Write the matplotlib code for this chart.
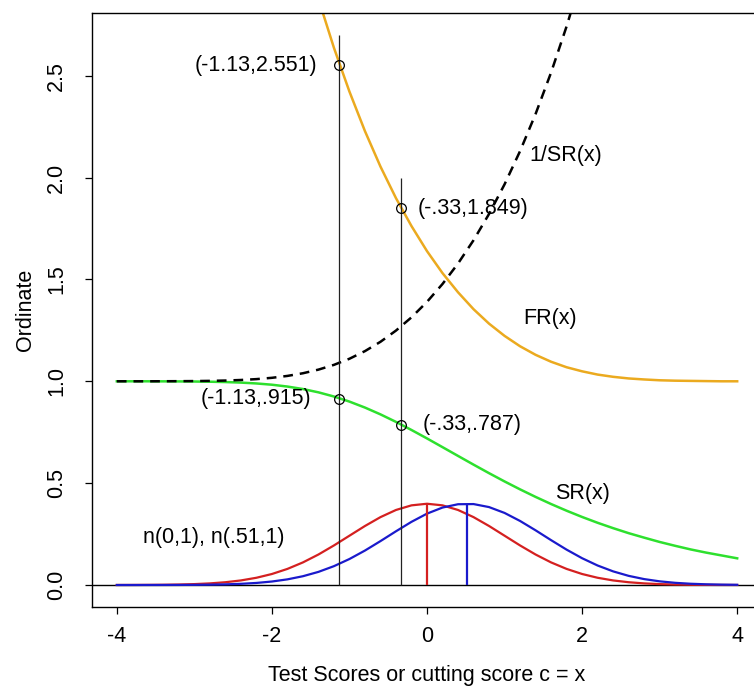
import matplotlib
matplotlib.use("Agg")
import matplotlib.pyplot as plt

plt.rcParams['font.family'] = ['Liberation Sans', 'DejaVu Sans']
plt.rcParams['lines.scale_dashes'] = False
plt.rcParams['axes.unicode_minus'] = False

# test score grid
x = [-4.0, -3.8, -3.6, -3.4, -3.2, -3.0, -2.8, -2.6, -2.4, -2.2,
     -2.0, -1.8, -1.6, -1.4, -1.2, -1.0, -0.8, -0.6, -0.4, -0.2,
     0.0, 0.2, 0.4, 0.6, 0.8, 1.0, 1.2, 1.4, 1.6, 1.8,
     2.0, 2.2, 2.4, 2.6, 2.8, 3.0, 3.2, 3.4, 3.6, 3.8, 4.0]

# n(0,1) density
dens0 = [0.0001, 0.0003, 0.0006, 0.0012, 0.0024, 0.0044, 0.0079, 0.0136, 0.0224, 0.0355,
         0.0540, 0.0790, 0.1109, 0.1497, 0.1942, 0.2420, 0.2897, 0.3332, 0.3683, 0.3910,
         0.3989, 0.3910, 0.3683, 0.3332, 0.2897, 0.2420, 0.1942, 0.1497, 0.1109, 0.0790,
         0.0540, 0.0355, 0.0224, 0.0136, 0.0079, 0.0044, 0.0024, 0.0012, 0.0006, 0.0003, 0.0001]

# n(.51,1) density
dens1 = [0.0000, 0.0000, 0.0001, 0.0002, 0.0004, 0.0008, 0.0017, 0.0032, 0.0058, 0.0101,
         0.0171, 0.0277, 0.0431, 0.0644, 0.0925, 0.1276, 0.1691, 0.2155, 0.2637, 0.3101,
         0.3503, 0.3802, 0.3965, 0.3973, 0.3825, 0.3538, 0.3144, 0.2685, 0.2202, 0.1736,
         0.1315, 0.0957, 0.0669, 0.0449, 0.0290, 0.0180, 0.0107, 0.0061, 0.0034, 0.0018, 0.0009]

# selection ratio SR(x)
sr = [1.000, 1.000, 1.000, 0.9997, 0.9994, 0.9989, 0.9979, 0.9963, 0.9936, 0.9894,
      0.9832, 0.9742, 0.9620, 0.9458, 0.9253, 0.9003, 0.8710, 0.8376, 0.8007, 0.7610,
      0.7195, 0.6767, 0.6337, 0.5909, 0.5490, 0.5084, 0.4695, 0.4325, 0.3975, 0.3647,
      0.3340, 0.3054, 0.2791, 0.2545, 0.2325, 0.2113, 0.1924, 0.1746, 0.1590, 0.1450, 0.1310]

# 1/SR(x)
inv_sr = [1.000, 1.000, 1.000, 1.0003, 1.0006, 1.0011, 1.0021, 1.0037, 1.0064, 1.0107,
          1.0171, 1.0264, 1.0395, 1.0573, 1.0807, 1.1107, 1.1482, 1.1939, 1.2490, 1.3140,
          1.3899, 1.4777, 1.5782, 1.6924, 1.8215, 1.9669, 2.1300, 2.3121, 2.5157, 2.7423,
          2.9938, 3.274, 3.583, 3.93, 4.30, 4.73, 5.20, 5.73, 6.29, 6.90, 7.63]

# FR(x)
fr = [9.9, 8.8, 8.0, 7.3, 6.6, 6.0, 5.5, 5.0, 4.5, 4.14,
      3.77, 3.442, 3.144, 2.877, 2.637, 2.422, 2.228, 2.054, 1.899, 1.762,
      1.639, 1.531, 1.437, 1.354, 1.283, 1.223, 1.172, 1.130, 1.096, 1.069,
      1.049, 1.033, 1.022, 1.014, 1.009, 1.005, 1.003, 1.002, 1.001, 1.000, 1.000]

# cutting scores and marked points
cut_x = [-1.13, -0.33]
cut_top = [2.7, 2.0]
pts_x = [-1.13, -0.33, -1.13, -0.33]
pts_y = [2.551, 1.849, 0.915, 0.787]
pts_lab = ['(-1.13,2.551)', '(-.33,1.849)', '(-1.13,.915)', '(-.33,.787)']
pts_off = [-16, 12, -20, 15]

means = [0.0, 0.51]
peak = 0.3989

fig = plt.figure(figsize=(7.54, 6.88), dpi=100)
ax = fig.add_axes([92/754, 1-607/688, (762-92)/754, (607-13)/688])

fs = 15.5
ax.axhline(0, color='black', lw=1.0)
ax.plot(x, dens0, color='#D42020', lw=1.6)
ax.plot(x, dens1, color='#1A1ACC', lw=1.6)
ax.vlines(means[0], 0, peak, color='#D42020', lw=1.6)
ax.vlines(means[1], 0, peak, color='#1A1ACC', lw=1.6)
ax.plot(x, sr, color='#2EE02E', lw=1.8)
ax.plot(x, fr, color='#EBAA1F', lw=1.8)
ax.plot(x, inv_sr, color='black', lw=1.8, dashes=[7, 5])
ax.vlines(cut_x, 0, cut_top, color='#222222', lw=0.9)
ax.plot(pts_x, pts_y, 'o', mfc='none', mec='black', ms=7, mew=0.9)

for px, py, lab, off in zip(pts_x, pts_y, pts_lab, pts_off):
    ax.annotate(lab, (px, py), xytext=(off, 0), textcoords='offset points',
                ha='right' if off < 0 else 'left', va='center', fontsize=fs)

ax.text(1.32, 2.11, '1/SR(x)', ha='left', va='center', fontsize=fs)
ax.text(1.24, 1.31, 'FR(x)', ha='left', va='center', fontsize=fs)
ax.text(2.0, 0.45, 'SR(x)', ha='center', va='center', fontsize=fs)
ax.text(-2.75, 0.233, 'n(0,1), n(.51,1)', ha='center', va='center', fontsize=fs)

ax.set_xlim(-4.32, 4.32)
ax.set_ylim(-0.108, 2.808)
ax.set_xticks([-4, -2, 0, 2, 4])
ax.set_yticks([0.0, 0.5, 1.0, 1.5, 2.0, 2.5])
ax.set_yticklabels(['0.0', '0.5', '1.0', '1.5', '2.0', '2.5'], rotation=90, va='center')
ax.tick_params(direction='out', length=5, width=0.9, labelsize=fs)
ax.tick_params(axis='x', pad=9)
ax.tick_params(axis='y', pad=13)
for s in ax.spines.values():
    s.set_linewidth(1.0)
ax.set_xlabel('Test Scores or cutting score c = x', fontsize=fs, labelpad=13)
ax.set_ylabel('Ordinate', fontsize=fs, labelpad=7)

fig.savefig('out.png', dpi=100)
